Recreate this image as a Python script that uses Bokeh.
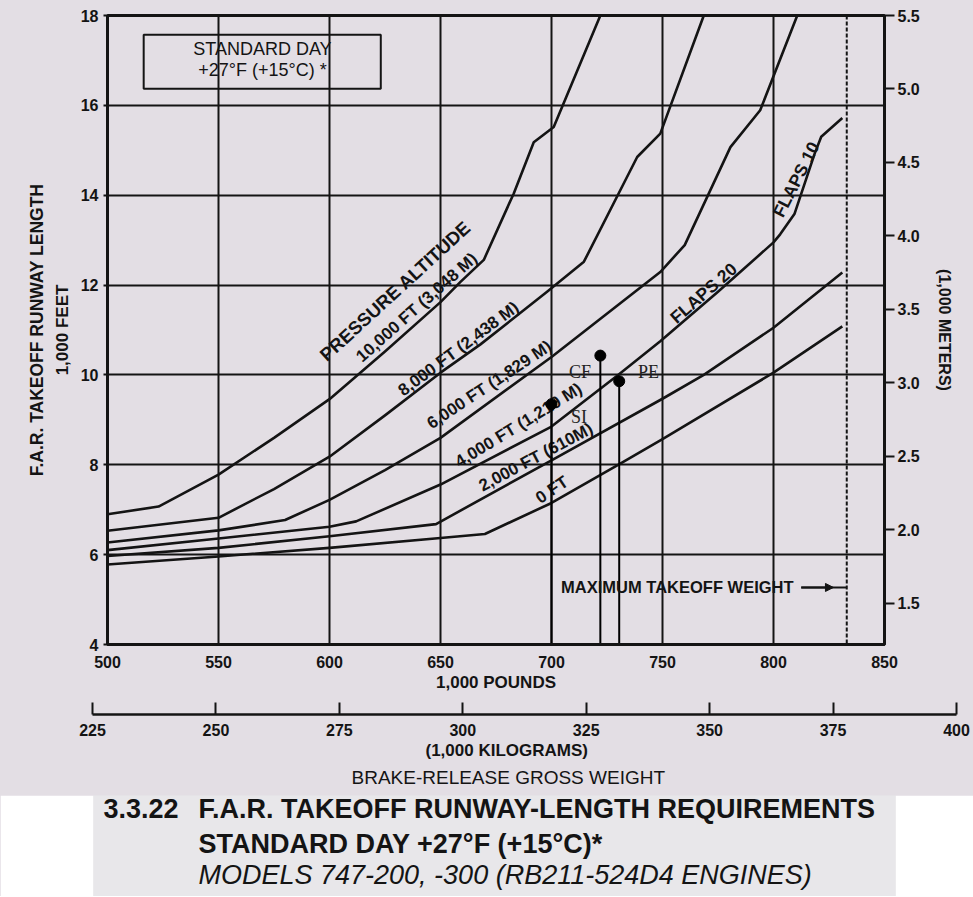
from bokeh.plotting import figure
from bokeh.models import (Range1d, LinearAxis, FixedTicker, Title, Arrow, NormalHead,
                          Span, BoxAnnotation, Label, PrintfTickFormatter)
from bokeh.layouts import column
from bokeh.embed import file_html
from bokeh.resources import INLINE
from bokeh.core.properties import value

# ---------------- data ----------------
weight_ticks_lb = [500, 550, 600, 650, 700, 750, 800, 850]
weight_grid_lb = [550, 600, 650, 700, 750, 800]
length_ticks_ft = [4, 6, 8, 10, 12, 14, 16, 18]
length_grid_ft = [6, 8, 10, 12, 14, 16]
length_ticks_m = [1.5, 2.0, 2.5, 3.0, 3.5, 4.0, 4.5, 5.0, 5.5]
weight_ticks_kg = [225, 250, 275, 300, 325, 350, 375, 400]
FT_TO_M = 0.3048

alt_10000_w = [500, 523, 550, 575, 600, 625, 650, 659, 669.5, 683, 692, 701, 722]
alt_10000_l = [6.90, 7.07, 7.78, 8.60, 9.46, 10.52, 11.62, 12.07, 12.56, 14.04, 15.18, 15.52, 18.0]

alt_8000_w = [500, 550, 575, 600, 625, 650, 668, 698, 714.6, 738.6, 749, 768.6]
alt_8000_l = [6.53, 6.82, 7.46, 8.18, 9.10, 10.05, 10.68, 11.85, 12.52, 14.85, 15.37, 18.0]

alt_6000_w = [500, 550, 580, 600, 625, 650, 700, 749, 760, 780.6, 794, 810.7]
alt_6000_l = [6.27, 6.54, 6.77, 7.22, 7.88, 8.60, 10.40, 12.29, 12.89, 15.07, 15.89, 18.0]

alt_4000_w = [500, 550, 600, 612, 650, 700, 730, 749, 775, 800, 803, 809.5, 818.5, 821.5, 831]
alt_4000_l = [6.10, 6.36, 6.62, 6.74, 7.56, 8.85, 10.0, 10.75, 11.85, 12.95, 13.13, 13.59, 14.92, 15.30, 15.72]

alt_2000_w = [500, 550, 600, 648, 700, 750, 768.6, 800, 831]
alt_2000_l = [5.97, 6.15, 6.41, 6.68, 8.10, 9.47, 10.0, 11.05, 12.28]

alt_0_w = [500, 550, 600, 650, 670, 700, 730, 750, 800, 831]
alt_0_l = [5.78, 5.96, 6.15, 6.37, 6.46, 7.15, 8.0, 8.57, 10.05, 11.08]

max_takeoff_weight = 833

marker_names = ["SI", "CF", "PE"]
marker_weight = [700, 722, 730.5]
marker_length = [9.35, 10.43, 9.86]

curve_label_text = ["10,000 FT (3,048 M)", "8,000 FT (2,438 M)",
                    "6,000 FT (1,829 M)", "4,000 FT (1,219 M)", "2,000 FT (610M)", "0 FT"]
flap_label_text = ["FLAPS 20", "FLAPS 10"]

# ---------------- layout / style ----------------
BG = "#e3dee4"
CAP_BG = "#e8e7ea"
INK = "#141414"
FONT = "Liberation Sans"
SERIF = "Liberation Serif"

label_x = [639.3, 658.1, 672.0, 685.2, 693.0, 700.2]
label_y = [11.50, 10.58, 9.78, 8.88, 8.17, 7.44]
label_angle = [41.5, 36.7, 33.5, 31.5, 28.0, 34.0]
flap_x = [768.5, 810.2]
flap_y = [11.82, 14.35]
flap_angle = [41.0, 63.0]

p = figure(width=973, height=695, x_range=Range1d(500, 850), y_range=Range1d(4, 18),
           output_backend="svg", toolbar_location=None, frame_align=False,
           min_border_left=107, min_border_right=89, min_border_top=15, min_border_bottom=51,
           background_fill_color=BG, border_fill_color=BG,
           outline_line_color=INK, outline_line_width=3)

# axes
xa = p.xaxis[0]
xa.ticker = FixedTicker(ticks=weight_ticks_lb)
xa.axis_label = "1,000 POUNDS"
ya = p.yaxis[0]
ya.ticker = FixedTicker(ticks=length_ticks_ft)
ya.axis_label = "1,000 FEET"
for ax in (xa, ya):
    ax.axis_line_width = 3
    ax.axis_line_color = INK
    ax.major_tick_in = 0
    ax.minor_tick_line_color = None
    ax.major_tick_line_width = 2
    ax.major_tick_line_color = INK
    ax.major_label_text_font = FONT
    ax.major_label_text_font_style = "bold"
    ax.major_label_text_font_size = "16px"
    ax.major_label_text_color = INK
    ax.axis_label_text_font = FONT
    ax.axis_label_text_font_style = "bold"
    ax.axis_label_text_font_size = "17px"
    ax.axis_label_text_color = INK
xa.major_tick_out = 0
xa.major_label_standoff = 11
xa.axis_label_standoff = 2
ya.major_tick_out = 4
ya.major_label_standoff = 5
ya.axis_label_standoff = 6

ya2 = LinearAxis(ticker=FixedTicker(ticks=[]), axis_label="F.A.R. TAKEOFF RUNWAY LENGTH",
                 axis_line_color=None, major_tick_out=0, major_tick_in=0,
                 minor_tick_line_color=None, axis_label_standoff=3,
                 axis_label_text_font=FONT, axis_label_text_font_style="bold",
                 axis_label_text_font_size="17.5px", axis_label_text_color=INK)
p.add_layout(ya2, "left")

p.extra_y_ranges = {"m": Range1d(4 * FT_TO_M, 5.5)}
yr = LinearAxis(y_range_name="m", ticker=FixedTicker(ticks=length_ticks_m),
                formatter=PrintfTickFormatter(format="%.1f"),
                axis_label="(1,000 METERS)", axis_line_width=3, axis_line_color=INK,
                major_tick_out=10, major_tick_in=0, major_tick_line_width=2,
                major_tick_line_color=INK, minor_tick_line_color=None,
                major_label_standoff=3, axis_label_standoff=13,
                major_label_text_font=FONT, major_label_text_font_style="bold",
                major_label_text_font_size="16px", major_label_text_color=INK,
                axis_label_text_font=FONT, axis_label_text_font_style="bold",
                axis_label_text_font_size="16px", axis_label_text_color=INK)
p.add_layout(yr, "right")

# grid
p.xgrid.ticker = FixedTicker(ticks=weight_grid_lb)
p.ygrid.ticker = FixedTicker(ticks=length_grid_ft)
for g in (p.xgrid[0], p.ygrid[0]):
    g.grid_line_color = INK
    g.grid_line_width = 2
    g.grid_line_alpha = 1

# curves
curves = [(alt_10000_w, alt_10000_l), (alt_8000_w, alt_8000_l), (alt_6000_w, alt_6000_l),
          (alt_4000_w, alt_4000_l), (alt_2000_w, alt_2000_l), (alt_0_w, alt_0_l)]
for cw, cl in curves:
    p.line(cw, cl, line_width=2.6, line_color=INK, line_join="round")

# curve labels
p.text(x=[629.6], y=[11.87], text=["PRESSURE ALTITUDE"], angle=[42.5], angle_units="deg",
       text_align="center", text_baseline="middle", text_font=value(FONT),
       text_font_style="bold", text_font_size="18.5px", text_color=INK)
p.text(x=label_x, y=label_y, text=curve_label_text, angle=label_angle, angle_units="deg",
       text_align="center", text_baseline="middle", text_font=value(FONT),
       text_font_style="bold", text_font_size="17px", text_color=INK)
p.text(x=flap_x, y=flap_y, text=flap_label_text, angle=flap_angle, angle_units="deg",
       text_align="center", text_baseline="middle", text_font=value(FONT),
       text_font_style="bold", text_font_size="17.5px", text_color=INK)

# max takeoff weight
p.add_layout(Span(location=max_takeoff_weight, dimension="height", line_color=INK,
                  line_width=2, line_dash="4 2"))
p.add_layout(Label(x=704.3, y=5.27, text="MAXIMUM TAKEOFF WEIGHT", text_align="left",
                   text_baseline="middle", text_font=FONT, text_font_style="bold",
                   text_font_size="16.5px", text_color=INK))
p.segment(x0=[812.5], y0=[5.27], x1=[max_takeoff_weight], y1=[5.27], line_color=INK, line_width=2)
p.add_layout(Arrow(end=NormalHead(size=8, fill_color=INK, line_color=INK),
                   x_start=812.5, y_start=5.27, x_end=827, y_end=5.27,
                   line_color=INK, line_width=2))

# standard-day box
p.add_layout(BoxAnnotation(left=516.3, right=623.1, bottom=16.37, top=17.57,
                           fill_alpha=0, line_color=INK, line_alpha=1, line_width=2))
p.add_layout(Label(x=569.8, y=17.25, text="STANDARD DAY", text_align="center",
                   text_baseline="middle", text_font=FONT, text_font_size="18px", text_color=INK))
p.add_layout(Label(x=569.8, y=16.78, text="+27°F (+15°C) *", text_align="center",
                   text_baseline="middle", text_font=FONT, text_font_size="18px", text_color=INK))

# markers SI / CF / PE
p.segment(x0=marker_weight, y0=[4] * len(marker_weight), x1=marker_weight, y1=marker_length,
          line_color="black", line_width=2)
p.scatter(marker_weight, marker_length, size=11, color="black")
p.text(x=[708.8, 707.9, 739.0], y=[9.07, 10.07, 10.07], text=marker_names,
       text_align="left", text_baseline="middle", text_font=value(SERIF),
       text_font_size="18px", text_color="#222")

# ---------------- kilogram scale ----------------
pk = figure(width=973, height=100, x_range=Range1d(225, 400), y_range=Range1d(0, 1),
            output_backend="svg", toolbar_location=None, frame_align=False,
            x_axis_location=None, y_axis_location=None,
            min_border_left=92, min_border_right=17, min_border_top=0, min_border_bottom=81,
            background_fill_color=BG, border_fill_color=BG, outline_line_color=None)
pk.grid.visible = False
ax_kg = LinearAxis(ticker=FixedTicker(ticks=weight_ticks_kg), axis_line_width=2.5,
                   axis_line_color=INK, major_tick_in=12, major_tick_out=0,
                   major_tick_line_width=2, major_tick_line_color=INK,
                   minor_tick_line_color=None, major_label_standoff=9,
                   major_label_text_font=FONT, major_label_text_font_style="bold",
                   major_label_text_font_size="16px", major_label_text_color=INK)
pk.add_layout(ax_kg, "below")
pk.add_layout(Title(text="(1,000 KILOGRAMS)", align="left", offset=333, standoff=0,
                    text_font=FONT, text_font_style="bold", text_font_size="17px",
                    text_color=INK), "below")
pk.add_layout(Title(text="BRAKE-RELEASE GROSS WEIGHT", align="left", offset=259, standoff=10,
                    text_font=FONT, text_font_style="normal", text_font_size="19px",
                    text_color=INK), "below")

# ---------------- caption ----------------
pc = figure(width=973, height=101, x_range=Range1d(0, 802), y_range=Range1d(101, 0),
            output_backend="svg", toolbar_location=None, frame_align=False,
            x_axis_location=None, y_axis_location=None,
            min_border_left=93, min_border_right=78, min_border_top=0, min_border_bottom=0,
            background_fill_color=CAP_BG, border_fill_color="white", outline_line_color=None)
pc.grid.visible = False
pc.text(x=[10, 105, 105], y=[13, 13, 48], text=["3.3.22", "F.A.R. TAKEOFF RUNWAY-LENGTH REQUIREMENTS",
                                                "STANDARD DAY +27°F (+15°C)*"],
        text_align="left", text_baseline="middle", text_font=value(FONT),
        text_font_style="bold", text_font_size="27px", text_color=INK)
pc.text(x=[105], y=[79], text=["MODELS 747-200, -300 (RB211-524D4 ENGINES)"],
        text_align="left", text_baseline="middle", text_font=value(FONT),
        text_font_style="italic", text_font_size="27px", text_color=INK)

layout = column(p, pk, pc, spacing=0, styles={"background-color": BG})
open("out.html", "w").write(file_html(layout, INLINE))
